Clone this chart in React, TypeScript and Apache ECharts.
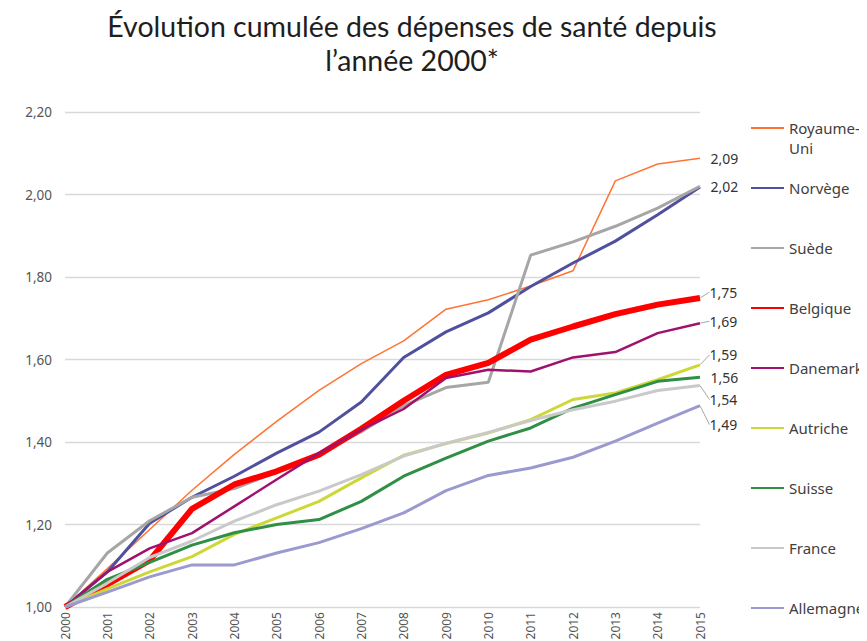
import React, { useEffect, useRef } from "react";
import * as echarts from "echarts";

const years = ["2000","2001","2002","2003","2004","2005","2006","2007","2008","2009","2010","2011","2012","2013","2014","2015"];

const royaumeUni = [1.0, 1.093, 1.188, 1.283, 1.37, 1.45, 1.525, 1.59, 1.645, 1.722, 1.745, 1.778, 1.815, 2.033, 2.074, 2.088];
const norvege = [1.0, 1.085, 1.203, 1.266, 1.317, 1.373, 1.424, 1.497, 1.605, 1.667, 1.713, 1.777, 1.834, 1.887, 1.951, 2.018];
const suede = [1.0, 1.131, 1.209, 1.266, 1.287, 1.327, 1.372, 1.425, 1.488, 1.532, 1.545, 1.853, 1.885, 1.923, 1.967, 2.02];
const belgique = [1.0, 1.055, 1.113, 1.238, 1.297, 1.329, 1.369, 1.432, 1.5, 1.563, 1.592, 1.648, 1.68, 1.71, 1.733, 1.749];
const danemark = [1.0, 1.085, 1.142, 1.179, 1.244, 1.309, 1.373, 1.43, 1.48, 1.555, 1.575, 1.571, 1.605, 1.618, 1.664, 1.688];
const autriche = [1.0, 1.044, 1.085, 1.122, 1.176, 1.216, 1.256, 1.313, 1.368, 1.396, 1.422, 1.454, 1.503, 1.519, 1.551, 1.587];
const suisse = [1.0, 1.067, 1.108, 1.15, 1.18, 1.2, 1.212, 1.256, 1.317, 1.361, 1.402, 1.434, 1.482, 1.515, 1.547, 1.557];
const france = [1.0, 1.058, 1.12, 1.16, 1.208, 1.248, 1.281, 1.321, 1.366, 1.397, 1.423, 1.452, 1.478, 1.499, 1.525, 1.537];
const allemagne = [1.0, 1.036, 1.073, 1.102, 1.102, 1.131, 1.156, 1.19, 1.228, 1.282, 1.319, 1.337, 1.363, 1.402, 1.446, 1.488];

const yTicks = ["1,00", "1,20", "1,40", "1,60", "1,80", "2,00", "2,20"];

const seriesDefs = [
  { name: "Royaume-Uni", data: royaumeUni, color: "#ff7433", width: 1.5, endLabel: true, labelDy: 0 },
  { name: "Norvège", data: norvege, color: "#50509e", width: 3, endLabel: false, labelDy: 0 },
  { name: "Suède", data: suede, color: "#a6a6a6", width: 3, endLabel: true, labelDy: 0 },
  { name: "Belgique", data: belgique, color: "#ff0000", width: 6, endLabel: true, labelDy: -6 },
  { name: "Danemark", data: danemark, color: "#a0106e", width: 2.5, endLabel: true, labelDy: -2 },
  { name: "Autriche", data: autriche, color: "#cdd836", width: 3, endLabel: true, labelDy: -10 },
  { name: "Suisse", data: suisse, color: "#2f8f46", width: 3, endLabel: true, labelDy: 0 },
  { name: "France", data: france, color: "#c9c9c9", width: 3, endLabel: true, labelDy: 14 },
  { name: "Allemagne", data: allemagne, color: "#9b9ad0", width: 3, endLabel: true, labelDy: 19 },
];

const FONT = "'Noto Sans', sans-serif";
const TITLE_FONT = "Lato, sans-serif";
const fmt = (v: number) => v.toFixed(2).replace(".", ",");

export default function App() {
  const ref = useRef<HTMLDivElement>(null);
  useEffect(() => {
    if (!ref.current) return;
    const chart = echarts.init(ref.current, undefined, { renderer: "svg" });
    const series = seriesDefs.map((s) => ({
      name: s.name,
      type: "line",
      symbol: "none",
      showSymbol: true,
      lineStyle: { color: s.color, width: s.width },
      itemStyle: { color: s.color },
      data: s.data.map((v, i) =>
        i === s.data.length - 1 && s.endLabel
          ? {
              value: v,
              symbol: "circle",
              symbolSize: 1,
              itemStyle: { color: "rgba(0,0,0,0)" },
              label: {
                show: true,
                position: "right",
                distance: s.labelDy === 0 ? 10 : 9,
                formatter: () => fmt(v),
                color: "#333",
                fontSize: 14,
                fontFamily: FONT,
              },
            }
          : v
      ),
      labelLayout: { dy: s.labelDy },
      labelLine: { show: s.labelDy !== 0, lineStyle: { color: "#a6a6a6", width: 1 } },
    }));
    const legendCommon = {
      orient: "vertical",
      left: 742,
      padding: 0,
      itemWidth: 33,
      itemHeight: 14,
      itemStyle: { opacity: 0 },
      textStyle: { fontFamily: FONT, fontSize: 15, lineHeight: 20, color: "#404040" },
    };
    chart.setOption({
      animation: false,
      title: {
        text: "{l1|Évolution cumulée des dépenses de santé depuis}\n{l2|l’année 2000*}",
        left: 404,
        top: 0,
        padding: 0,
        textAlign: "center",
        textStyle: {
          fontWeight: "normal",
          rich: {
            l1: {
              fontFamily: TITLE_FONT,
              fontWeight: "normal",
              fontSize: 28.5,
              lineHeight: 35,
              color: "#1e1e1e",
            },
            l2: {
              fontFamily: TITLE_FONT,
              fontWeight: "normal",
              fontSize: 28.5,
              lineHeight: 33,
              color: "#1e1e1e",
            },
          },
        },
      },
      legend: [
        {
          ...legendCommon,
          data: ["Royaume-Uni"],
          top: 90,
          formatter: () => " \nRoyaume-\nUni",
        },
        {
          ...legendCommon,
          data: seriesDefs.slice(1).map((s) => s.name),
          top: 170,
          itemGap: 40,
        },
      ],
      grid: { left: 57, right: 175, top: 104, bottom: 42 },
      xAxis: {
        type: "category",
        data: years,
        boundaryGap: false,
        axisLine: { show: false },
        axisTick: { show: false },
        axisLabel: { rotate: 90, fontSize: 12, color: "#555", fontFamily: FONT, margin: 5 },
      },
      yAxis: {
        type: "value",
        min: 1,
        max: 2.2,
        interval: 0.2,
        axisLine: { show: false },
        axisTick: { show: false },
        splitLine: { lineStyle: { color: "#d9d9d9", width: 1.3 } },
        axisLabel: {
          fontSize: 13.5,
          color: "#555",
          fontFamily: FONT,
          margin: 13,
          formatter: (v: number) => yTicks[Math.round((v - 1) / 0.2)] ?? fmt(v),
        },
      },
      series,
    });
    return () => chart.dispose();
  }, []);
  return <div ref={ref} style={{ width: 867, height: 641 }} />;
}
